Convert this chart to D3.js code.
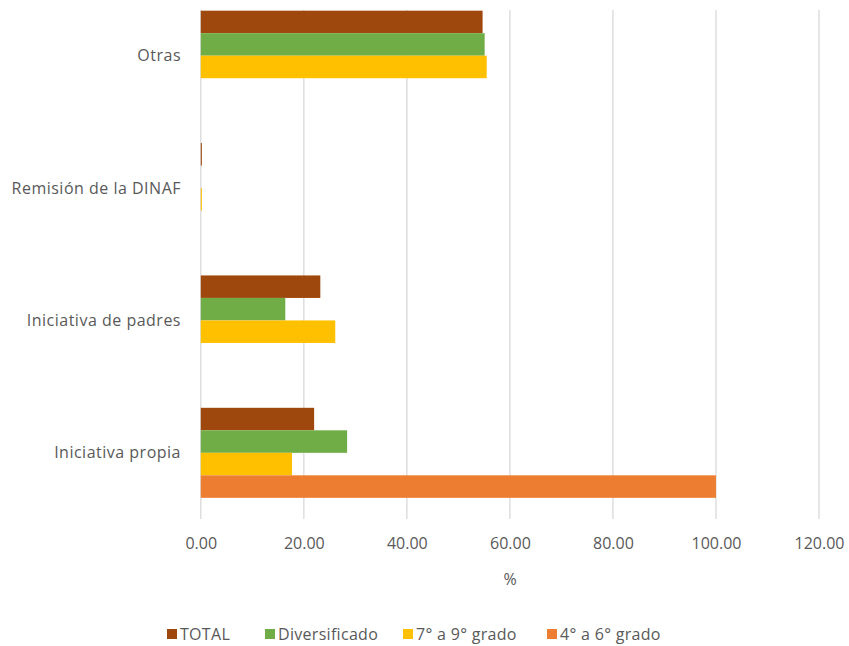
<!DOCTYPE html>
<html><head><meta charset="utf-8">
<script src="https://cdn.jsdelivr.net/npm/d3@7"></script>
<style>body{margin:0;background:#fff}svg{display:block}text{font-family:"Open Sans",Lato,sans-serif;fill:#595959}</style>
</head><body>
<script>
const categories = ["Otras","Remisión de la DINAF","Iniciativa de padres","Iniciativa propia"];
const seriesNames = ["TOTAL","Diversificado","7° a 9° grado","4° a 6° grado"];
const seriesColors = ["#9E480E","#70AD47","#FFC000","#ED7D31"];
const totalVals = [54.7, 0.2, 23.2, 22.0];
const diversVals = [55.1, 0, 16.4, 28.4];
const g79Vals = [55.5, 0.2, 26.1, 17.7];
const g46Vals = [0, 0, 0, 100];
const tickVals = [0,20,40,60,80,100,120];
const axisTitle = "%";

const seriesVals = [totalVals, diversVals, g79Vals, g46Vals];
const W=849,H=646;
const svg=d3.select("body").append("svg").attr("width",W).attr("height",H);
const x=d3.scaleLinear().domain([0,120]).range([200.8,819]);
const y0=d3.scaleBand().domain(categories).range([-10.5,519]).paddingInner(0.32).paddingOuter(0.16);
const y1=d3.scaleBand().domain(seriesNames).range([0,y0.bandwidth()]);

svg.append("g").selectAll("line").data(tickVals).join("line")
 .attr("x1",d=>x(d)).attr("x2",d=>x(d)).attr("y1",10).attr("y2",519)
 .attr("stroke","#D9D9D9").attr("stroke-width",1.3);

const grp=svg.append("g").selectAll("g").data(categories).join("g")
 .attr("transform",c=>`translate(0,${y0(c)})`);
grp.selectAll("rect").data((c,i)=>seriesNames.map((s,j)=>({s,j,v:seriesVals[j][i]}))).join("rect")
 .attr("x",x(0)).attr("y",d=>y1(d.s)).attr("height",y1.bandwidth())
 .attr("width",d=>x(d.v)-x(0)).attr("fill",d=>seriesColors[d.j]);

svg.append("g").selectAll("text").data(categories).join("text")
 .attr("x",181).attr("y",c=>y0(c)+y0.bandwidth()/2).attr("dy","0.35em")
 .attr("text-anchor","end").attr("font-size",16).attr("letter-spacing",0.5).text(c=>c);

const ax=d3.axisBottom(x).tickValues(tickVals).tickFormat(d3.format(".2f")).tickSize(0);
const axg=svg.append("g").attr("transform","translate(0,535)").call(ax);
axg.select(".domain").remove();
axg.selectAll("text").attr("font-size",16).style("font-family","'Open Sans',sans-serif").attr("fill","#595959").attr("dy","0.71em");

svg.append("text").attr("x",510).attr("y",585).attr("text-anchor","middle").attr("font-size",16).text(axisTitle);

const legX=[167,265,403,547];
const leg=svg.append("g").selectAll("g").data(seriesNames).join("g")
 .attr("transform",(d,i)=>`translate(${legX[i]},629)`);
leg.append("rect").attr("width",10).attr("height",10).attr("fill",(d,i)=>seriesColors[i]);
leg.append("text").attr("x",13).attr("y",5).attr("dy","0.36em").attr("font-size",16).attr("letter-spacing",0.3).text(d=>d);
</script>
</body></html>
